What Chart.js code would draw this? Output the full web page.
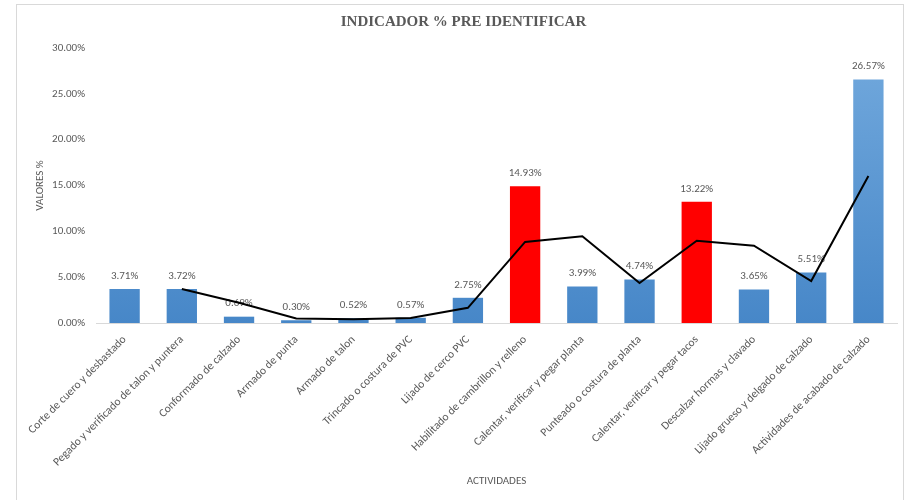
<!DOCTYPE html>
<html>
<head>
<meta charset="utf-8">
<script src="https://cdn.jsdelivr.net/npm/chart.js@4.4.1/dist/chart.umd.min.js"></script>
<style>
  html, body { margin: 0; padding: 0; background: #ffffff; }
  #wrap { position: relative; width: 910px; height: 500px; }
</style>
</head>
<body>
<div id="wrap"><canvas id="c" width="910" height="500"></canvas></div>
<script>
// Activities and their share (%)
const categories = [
  'Corte de cuero y desbastado',
  'Pegado y verificado de talon y puntera',
  'Conformado de calzado',
  'Armado de punta',
  'Armado de talon',
  'Trincado o costura de PVC',
  'Lijado de cerco PVC',
  'Habilitado de cambrillon y relleno',
  'Calentar, verificar y pegar planta',
  'Punteado o costura de planta',
  'Calentar, verificar y pegar tacos',
  'Descalzar hormas y clavado',
  'Lijado grueso y delgado de calzado',
  'Actividades de acabado de calzado'
];
const valores = [3.71, 3.72, 0.69, 0.30, 0.52, 0.57, 2.75, 14.93, 3.99, 4.74, 13.22, 3.65, 5.51, 26.57];
// Two-period moving average trend line
const tendencia = [null, 3.715, 2.205, 0.495, 0.41, 0.545, 1.66, 8.84, 9.46, 4.365, 8.98, 8.435, 4.58, 16.04];
// Activities highlighted in red
const destacados = [7, 10];
const yTicks = [0, 5, 10, 15, 20, 25, 30];

const GRAY = '#595959';
const LABEL_FONT = 'Carlito, Lato, "Liberation Sans", sans-serif';

function barFill(ctx) {
  const i = ctx.dataIndex;
  if (destacados.includes(i)) return '#ff0000';
  const chart = ctx.chart;
  const area = chart.chartArea;
  if (!area) return '#5b9bd5';
  const g = chart.ctx.createLinearGradient(0, area.top, 0, area.bottom);
  g.addColorStop(0, '#72a9dd');
  g.addColorStop(1, '#4787c8');
  return g;
}

const frame = {
  id: 'frame',
  beforeDraw(chart) {
    const c = chart.ctx;
    c.save();
    c.fillStyle = '#ffffff';
    c.fillRect(0, 0, chart.width, chart.height);
    c.strokeStyle = '#d9d9d9';
    c.lineWidth = 1;
    c.strokeRect(16.5, 4.5, 887, 520);
    c.restore();
  }
};

const barLabels = {
  id: 'barLabels',
  afterDatasetDraw(chart, args) {
    if (args.index !== 0) return;
    const c = chart.ctx;
    c.save();
    c.font = '11px ' + LABEL_FONT;
    c.fillStyle = GRAY;
    c.textAlign = 'center';
    c.textBaseline = 'middle';
    args.meta.data.forEach((bar, i) => {
      c.fillText(valores[i].toFixed(2) + '%', bar.x, bar.y - 13);
    });
    c.restore();
  }
};

new Chart(document.getElementById('c'), {
  data: {
    labels: categories,
    datasets: [
      {
        type: 'bar',
        data: valores,
        backgroundColor: barFill,
        borderWidth: 0,
        barPercentage: 0.53,
        categoryPercentage: 1,
        order: 2
      },
      {
        type: 'line',
        data: tendencia,
        borderColor: '#000000',
        borderWidth: 2,
        pointRadius: 0,
        tension: 0,
        fill: false,
        spanGaps: false,
        order: 1
      }
    ]
  },
  options: {
    responsive: false,
    animation: false,
    events: [],
    layout: { padding: { left: 30, right: 13, top: 4, bottom: 0 } },
    plugins: {
      legend: { display: false },
      tooltip: { enabled: false },
      title: {
        display: true,
        text: 'INDICADOR % PRE IDENTIFICAR',
        color: GRAY,
        font: { family: '"Liberation Serif", "Times New Roman", serif', size: 15, weight: 'bold' },
        padding: { top: 9, bottom: 17 }
      }
    },
    scales: {
      x: {
        grid: { display: false },
        border: { display: true, color: '#d9d9d9', width: 1 },
        ticks: {
          autoSkip: false,
          maxRotation: 45,
          minRotation: 45,
          color: GRAY,
          padding: 2,
          font: { family: LABEL_FONT, size: 11.5 }
        },
        title: {
          display: true,
          text: 'ACTIVIDADES',
          color: GRAY,
          font: { family: LABEL_FONT, size: 11 },
          padding: { top: 4, bottom: 12 }
        },
        afterFit(scale) { scale.height = 177; }
      },
      y: {
        min: 0,
        max: 30,
        afterBuildTicks(scale) { scale.ticks = yTicks.map(v => ({ value: v })); },
        grid: { display: false },
        border: { display: false },
        ticks: {
          color: GRAY,
          padding: 3,
          font: { family: LABEL_FONT, size: 11 },
          callback: v => v.toFixed(2) + '%'
        },
        title: {
          display: true,
          text: 'VALORES %',
          color: GRAY,
          font: { family: LABEL_FONT, size: 11 },
          padding: { top: 4, bottom: 4 }
        },
        afterFit(scale) { scale.width = 66; }
      }
    }
  },
  plugins: [frame, barLabels]
});
</script>
</body>
</html>
